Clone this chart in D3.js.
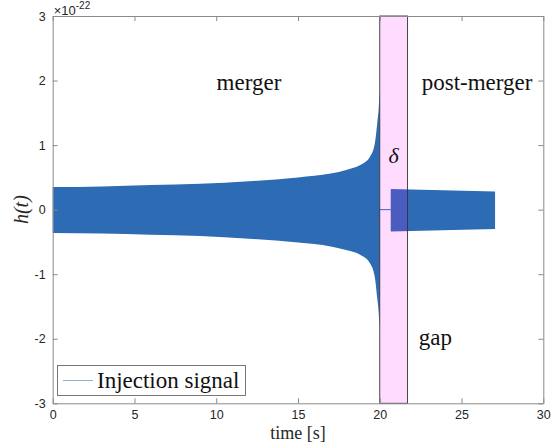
<!DOCTYPE html>
<html><head><meta charset="utf-8">
<script src="https://cdn.jsdelivr.net/npm/d3@7"></script>
<style>
html,body{margin:0;padding:0;background:#fff;}
svg{display:block;}
.tick text{font-family:"Liberation Sans",Arial,sans-serif;font-size:12.5px;fill:#262626;}
</style></head>
<body>
<svg id="chart" width="559" height="442"></svg>
<script>
// ---- data (units of 1e-22) ----
const mergerT     = [0, 3, 6, 9, 12, 15, 17, 18, 18.8, 19.4, 19.7, 19.85, 19.93, 19.97, 19.995, 20.0];
const mergerUpper = [0.35, 0.36, 0.38, 0.40, 0.44, 0.50, 0.56, 0.62, 0.69, 0.82, 1.03, 1.35, 1.55, 1.72, 1.8, 0];
const mergerLower = [-0.36, -0.37, -0.39, -0.41, -0.45, -0.51, -0.57, -0.63, -0.70, -0.83, -1.05, -1.38, -1.58, -1.76, -1.82, 0];
const gapLineT    = [20.0, 20.67];
const postT       = [20.67, 27.05];
const postUpper   = [0.32, 0.28];
const postLower   = [-0.34, -0.30];
const gapBand     = [20.0, 21.7];
const xTicks      = [0, 5, 10, 15, 20, 25, 30];
const yTicks      = [-3, -2, -1, 0, 1, 2, 3];
const annotations = [
  {text: "merger", t: 12, h: 1.85},
  {text: "post-merger", t: 25.95, h: 1.85},
  {text: "gap", t: 23.4, h: -2.1}
];

const svg = d3.select("#chart");
const L = 52.7, R = 543.3, T = 16, B = 403.3;
const x = d3.scaleLinear().domain([0, 30]).range([L, R]);
const y = d3.scaleLinear().domain([-3, 3]).range([B, T]);

const blue = "#2d6cb5";
const serif = "'Liberation Serif','Times New Roman',serif";

// merger signal (dense oscillation drawn as its filled envelope)
const mergerData = mergerT.map((t, i) => ({t, u: mergerUpper[i], l: mergerLower[i]}));
svg.append("path")
  .datum(mergerData)
  .attr("fill", blue)
  .attr("d", d3.area().x(d => x(d.t)).y0(d => y(d.l)).y1(d => y(d.u)).curve(d3.curveMonotoneX));

// zero line across the gap
svg.append("path")
  .datum(gapLineT)
  .attr("fill", "none").attr("stroke", blue).attr("stroke-width", 1)
  .attr("d", d3.line().x(d => x(d)).y(() => y(0)));

// post-merger signal
const postData = postT.map((t, i) => ({t, u: postUpper[i], l: postLower[i]}));
svg.append("path")
  .datum(postData)
  .attr("fill", blue)
  .attr("d", d3.area().x(d => x(d.t)).y0(d => y(d.l)).y1(d => y(d.u)));

// gap band (transparent magenta patch)
svg.append("rect")
  .attr("x", x(gapBand[0])).attr("y", y(3))
  .attr("width", x(gapBand[1]) - x(gapBand[0])).attr("height", y(-3) - y(3))
  .attr("fill", "#ff00ff").attr("fill-opacity", 0.14)
  .attr("stroke", "#333").attr("stroke-width", 0.9);

// axes (box with inward ticks)
const axisColor = "#8a8a8a";
const gx = svg.append("g").attr("transform", `translate(0,${B})`)
  .call(d3.axisBottom(x).tickValues(xTicks).tickSizeInner(-5).tickSizeOuter(0).tickPadding(7));
const gxt = svg.append("g").attr("transform", `translate(0,${T})`)
  .call(d3.axisTop(x).tickValues(xTicks).tickSizeInner(-5).tickSizeOuter(0).tickFormat(""));
const gy = svg.append("g").attr("transform", `translate(${L},0)`)
  .call(d3.axisLeft(y).tickValues(yTicks).tickSizeInner(-5).tickSizeOuter(0).tickPadding(7));
const gyr = svg.append("g").attr("transform", `translate(${R},0)`)
  .call(d3.axisRight(y).tickValues(yTicks).tickSizeInner(-5).tickSizeOuter(0).tickFormat(""));
[gx, gxt, gy, gyr].forEach(g => {
  g.select(".domain").attr("stroke", axisColor).attr("stroke-width", 1);
  g.selectAll(".tick line").attr("stroke", axisColor);
});
gy.selectAll(".tick text").text(d => d);

// exponent label
const ex = svg.append("text").attr("x", L + 1).attr("y", 15)
  .attr("font-family", "'Liberation Sans',Arial,sans-serif").attr("font-size", 13).attr("fill", "#262626");
ex.append("tspan").text("\u00d710");
ex.append("tspan").attr("dy", -6).attr("font-size", 10).text("-22");

// axis labels
svg.append("text").attr("x", (L + R) / 2).attr("y", 439)
  .attr("text-anchor", "middle").attr("font-family", serif).attr("font-size", 18).attr("fill", "#262626")
  .text("time [s]");
svg.append("text").attr("transform", `translate(28,${y(0)}) rotate(-90)`)
  .attr("text-anchor", "middle").attr("font-family", serif).attr("font-size", 20).attr("fill", "#262626")
  .attr("font-style", "italic")
  .text("h(t)");

// annotations
svg.selectAll("text.ann").data(annotations).enter().append("text")
  .attr("class", "ann")
  .attr("x", d => x(d.t)).attr("y", d => y(d.h))
  .attr("text-anchor", "middle").attr("font-family", serif).attr("font-size", 23).attr("fill", "#111")
  .text(d => d.text);
svg.append("text").attr("x", x((gapBand[0] + gapBand[1]) / 2)).attr("y", y(0.72))
  .attr("text-anchor", "middle").attr("font-family", serif).attr("font-size", 22).attr("font-style", "italic")
  .attr("fill", "#111").text("\u03b4");

// legend
const lg = svg.append("g");
lg.append("rect").attr("x", 57.5).attr("y", 365.5).attr("width", 188).attr("height", 30)
  .attr("fill", "#fff").attr("stroke", "#555").attr("stroke-width", 0.8);
lg.append("line").attr("x1", 63).attr("x2", 93).attr("y1", 380.5).attr("y2", 380.5)
  .attr("stroke", "#8db3dc").attr("stroke-width", 1);
lg.append("text").attr("x", 97).attr("y", 387.5)
  .attr("font-family", serif).attr("font-size", 23).attr("fill", "#111").text("Injection signal");
</script>
</body></html>
